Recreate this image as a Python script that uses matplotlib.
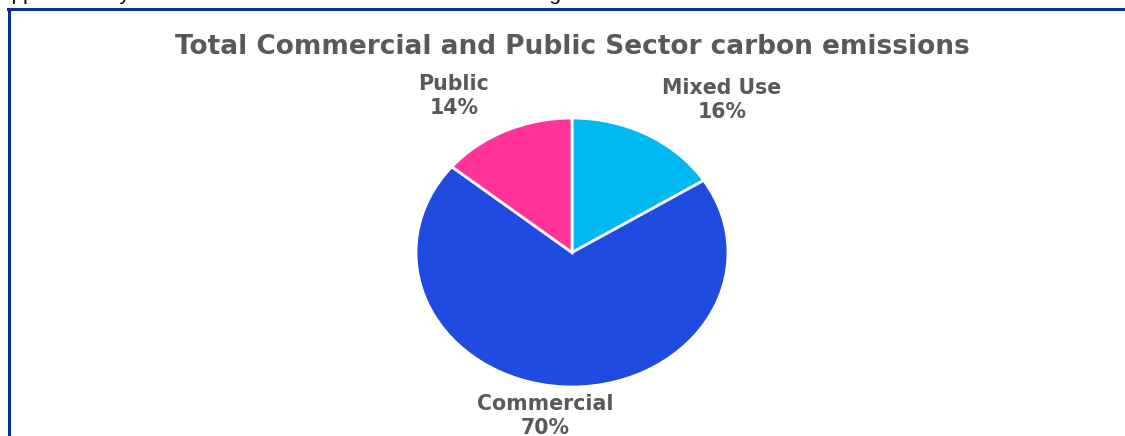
import numpy as np
import matplotlib.pyplot as plt
from matplotlib.lines import Line2D

# DATOS
sectores = ['Mixed Use', 'Commercial', 'Public']
porcentajes = [16, 70, 14]
colores = ['#00B9F2', '#1F4BE0', '#FF3399']
titulo = 'Total Commercial and Public Sector carbon emissions'
texto_cortado = 'approximately one third of the emissions come from the range in the sector'

W, H = 1125, 436
fig = plt.figure(figsize=(W / 100, H / 100), dpi=100)

# texto de arriba, cortado por el borde de la imagen
fig.text(0.0, 1 + 0.5 / H, texto_cortado, fontsize=15, color='black',
         family='Liberation Sans', va='baseline', ha='left')

# marco azul (solo arriba e izquierda visibles)
fig.add_artist(Line2D([8 / W, 1], [1 - 9 / H, 1 - 9 / H], color='#0A3190', lw=2.2))
fig.add_artist(Line2D([9 / W, 9 / W], [0, 1 - 9 / H], color='#0A3190', lw=2.2))

# titulo
fig.text(572 / W, 1 - 54 / H, titulo, fontsize=19, fontweight='bold',
         color='#595959', ha='center', va='baseline')

# PASTEL (eliptico, como en la imagen)
ax = fig.add_axes([416 / W, 1 - 387 / H, 312 / W, 269 / H])
ax.pie(porcentajes, colors=colores, startangle=90, counterclock=False,
       wedgeprops=dict(edgecolor='white', linewidth=2))
ax.set_aspect('auto')
ax.set_xlim(-1, 1)
ax.set_ylim(-1, 1)
ax.axis('off')

# etiquetas
pos_etiquetas = [(722, 100), (545, 416), (454, 96)]
for nombre, p, (px, py) in zip(sectores, porcentajes, pos_etiquetas):
    fig.text(px / W, 1 - py / H, f'{nombre}\n{p}%', fontsize=14.8, fontweight='bold',
             color='#595959', ha='center', va='center', linespacing=1.2)

fig.savefig('out.png', dpi=100)
